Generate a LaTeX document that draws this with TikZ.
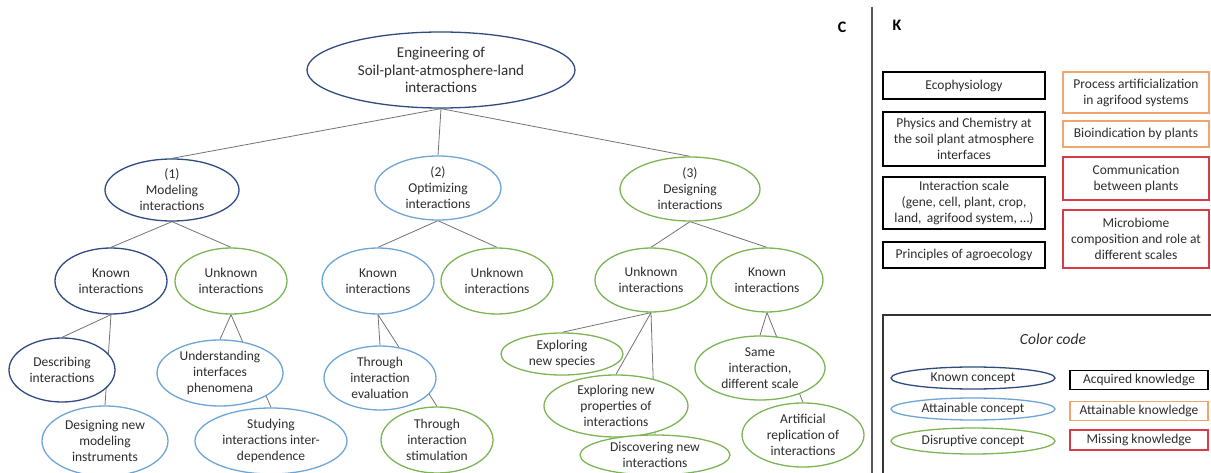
\documentclass[tikz,border=0pt]{standalone}
\usepackage{fontspec}
\setmainfont{Carlito}
\usetikzlibrary{shapes.geometric,backgrounds}
\definecolor{dkblue}{RGB}{47,75,130}
\definecolor{ltblue}{RGB}{110,165,215}
\definecolor{grn}{RGB}{125,180,85}
\definecolor{orng}{RGB}{240,165,110}
\definecolor{rd}{RGB}{215,60,70}
\definecolor{lineg}{RGB}{115,115,115}
\definecolor{txt}{RGB}{45,45,45}
\begin{document}
\begin{tikzpicture}[x=1pt,y=-1pt,
  base/.style={ellipse, draw, line width=1.3pt, fill=white, inner sep=0pt, align=center,
    font=\fontsize{13.5}{16}\selectfont, text=txt},
  kc/.style={base, draw=dkblue},
  ac/.style={base, draw=ltblue},
  dc/.style={base, draw=grn},
  sz/.style 2 args={minimum width=#1pt, minimum height=#2pt},
  kbox/.style={rectangle, draw, line width=1.2pt, fill=white, inner sep=0pt, align=center,
    font=\fontsize{13.5}{16}\selectfont, text=txt},
  blk/.style={kbox, draw=black},
  orb/.style={kbox, draw=orng},
  rdb/.style={kbox, draw=rd},
  conn/.style={draw=lineg, line width=0.8pt},
  letter/.style={font=\bfseries\fontsize{16}{18}\selectfont, text=black}]
\useasboundingbox (0,0) rectangle (1211,473);

% concept tree
\node[kc, sz={268}{76}, font=\fontsize{15}{17.5}\selectfont] (root) at (441,70)
  {Engineering of\\Soil-plant-atmosphere-land\\interactions};
\node[kc, sz={134}{62}] (n1) at (172,190) {(1)\\Modeling\\interactions};
\node[ac, sz={126}{64}] (n2) at (438,188) {(2)\\Optimizing\\interactions};
\node[dc, sz={140}{64}] (n3) at (690,189) {(3)\\Designing\\interactions};

\node[kc, sz={112}{66}] (k1) at (111,281) {Known\\interactions};
\node[dc, sz={112}{66}] (u1) at (231,281) {Unknown\\interactions};
\node[ac, sz={112}{66}] (k2) at (378,281) {Known\\interactions};
\node[dc, sz={112}{66}] (u2) at (497,281) {Unknown\\interactions};
\node[dc, sz={112}{64}] (u3) at (651,280) {Unknown\\interactions};
\node[dc, sz={112}{64}] (k3) at (767,280) {Known\\interactions};

\node[kc, sz={106}{64}] (desc) at (62,370) {Describing\\interactions};
\node[ac, sz={126}{70}] (desg) at (105,441) {Designing new\\modeling\\instruments};
\node[ac, sz={126}{66}] (und) at (220,373) {Understanding\\interfaces\\phenomena};
\node[ac, sz={152}{66}] (stud) at (271,441) {Studying\\interactions inter-\\dependence};
\node[ac, sz={112}{64}] (teval) at (380,378) {Through\\interaction\\evaluation};
\node[dc, sz={112}{66}] (tstim) at (437,440) {Through\\interaction\\stimulation};
\node[dc, sz={122}{42}] (spec) at (562,354) {Exploring\\new species};
\node[dc, sz={144}{62}] (props) at (616,406) {Exploring new\\properties of\\interactions};
\node[dc, sz={150}{40}] (disc) at (655,455) {Discovering new\\interactions};
\node[dc, sz={130}{64}] (same) at (760,368) {Same\\interaction,\\different scale};
\node[dc, sz={122}{64}] (art) at (803,435) {Artificial\\replication of\\interactions};

\begin{scope}[on background layer]
  \draw[conn] (root.south) -- (n1.north);
  \draw[conn] (root.south) -- (n2.north);
  \draw[conn] (root.south) -- (n3.north);
  \draw[conn] (n1.south) -- (k1.north);
  \draw[conn] (n1.south) -- (u1.north);
  \draw[conn] (n2.south) -- (k2.north);
  \draw[conn] (n2.south) -- (u2.north);
  \draw[conn] (n3.south) -- (u3.north);
  \draw[conn] (n3.south) -- (k3.north);
  \draw[conn] (k1.south) -- (desc.north);
  \draw[conn] (k1.south) -- (desg.north);
  \draw[conn] (u1.south) -- (und.north);
  \draw[conn] (u1.south) -- (stud.north);
  \draw[conn] (k2.south) -- (teval.north);
  \draw[conn] (k2.south) -- (tstim.north);
  \draw[conn] (u3.south) -- (spec.north);
  \draw[conn] (u3.south) -- (props.north);
  \draw[conn] (u3.south) -- (disc.north);
  \draw[conn] (k3.south) -- (same.north);
  \draw[conn] (k3.south) -- (art.north);
\end{scope}

% panel separator and letters
\draw[line width=1.6pt, draw=black!65] (872,7) -- (872,480);
\node[letter] (C) at (842,27) {C};
\node[letter] (K) at (897,25) {K};

% knowledge boxes
\node[blk, sz={162}{27}] (eco) at (964,85.5) {Ecophysiology};
\node[blk, sz={162}{54}] (phys) at (964,139) {Physics and Chemistry at\\the soil plant atmosphere\\interfaces};
\node[blk, sz={162}{52}] (iscale) at (964,203) {Interaction scale\\(gene, cell, plant, crop,\\land,\ \,agrifood system, …)};
\node[blk, sz={162}{26}] (prin) at (964,255) {Principles of agroecology};
\node[orb, sz={146}{41}] (proc) at (1136,92.5) {Process artificialization\\in agrifood systems};
\node[orb, sz={146}{26}] (bio) at (1136,134) {Bioindication by plants};
\node[rdb, sz={146}{43}] (comm) at (1136,178.5) {Communication\\between plants};
\node[rdb, sz={146}{58}] (micro) at (1136,239) {Microbiome\\composition and role at\\different scales};

% colour code legend
\draw[line width=1.2pt, draw=black!80] (883,480) -- (883,315) -- (1216,315);
\node[font=\itshape\fontsize{15.5}{17}\selectfont, text=txt] (cc) at (1053,339) {Color code};
\node[kc, sz={164}{22}] (lk) at (973,378) {Known concept};
\node[ac, sz={164}{22}] (la) at (973,409) {Attainable concept};
\node[dc, sz={164}{26}] (ld) at (973,441) {Disruptive concept};
\node[blk, sz={138}{19}] (ba) at (1139,380) {Acquired knowledge};
\node[orb, sz={138}{19}] (bat) at (1139,411) {Attainable knowledge};
\node[rdb, sz={138}{20}] (bm) at (1139,440) {Missing knowledge};
\end{tikzpicture}
\end{document}
